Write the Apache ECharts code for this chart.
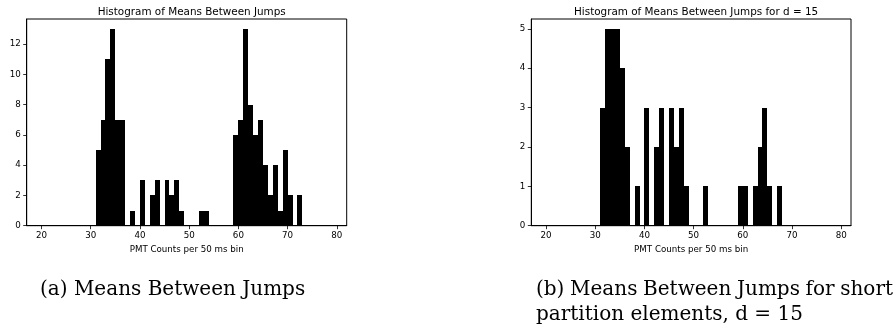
<!DOCTYPE html>
<html>
<head>
<meta charset="utf-8">
<script src="https://cdn.jsdelivr.net/npm/echarts@6/dist/echarts.min.js"></script>
<style>
html,body{margin:0;padding:0;background:#fff;}
#chart{width:894px;height:333px;}
</style>
</head>
<body>
<div id="chart"></div>
<script>
// Histogram bin edges (PMT counts per 50 ms bin)
const binEdges = [20,21,22,23,24,25,26,27,28,29,30,31,32,33,34,35,36,37,38,39,40,41,42,43,44,45,46,47,48,49,50,51,52,53,54,55,56,57,58,59,60,61,62,63,64,65,66,67,68,69,70,71,72,73,74,75,76,77,78,79,80];
// counts per bin, panel (a)
const countsA = [0,0,0,0,0,0,0,0,0,0, 0,5,7,11,13,7,7,0,1,0, 3,0,2,3,0,3,2,3,1,0, 0,0,1,1,0,0,0,0,0,6, 7,13,8,6,7,4,2,4,1,5, 2,0,2,0,0,0,0,0,0,0];
// counts per bin, panel (b), d = 15
const countsB = [0,0,0,0,0,0,0,0,0,0, 0,3,5,5,5,4,2,0,1,0, 3,0,2,3,0,3,2,3,1,0, 0,0,1,0,0,0,0,0,0,1, 1,0,1,2,3,1,0,1,0,0, 0,0,0,0,0,0,0,0,0,0];
const xTicks = [20,30,40,50,60,70,80];
const yTicksA = [0,2,4,6,8,10,12];
const yTicksB = [0,1,2,3,4,5];
const titleA = 'Histogram of Means Between Jumps';
const titleB = 'Histogram of Means Between Jumps for d = 15';
const xLabel = 'PMT Counts per 50 ms bin';
const captionA = '(a) Means Between Jumps';
const captionB1 = '(b) Means Between Jumps for short';
const captionB2 = 'partition elements, d = 15';

function histData(counts){
  const out = [];
  for (let i = 0; i < counts.length; i++) {
    out.push([binEdges[i], binEdges[i+1], counts[i]]);
  }
  return out;
}
function renderItem(params, api){
  const h = api.value(2);
  if (!h) return null;
  const p0 = api.coord([api.value(0), 0]);
  const p1 = api.coord([api.value(1), h]);
  const x0 = Math.round(p0[0]), x1 = Math.round(p1[0]);
  const yb = Math.round(p0[1]), yt = Math.round(p1[1]);
  return {type:'rect', shape:{x:x0, y:yt, width:x1-x0, height:yb-yt}, style:{fill:'#000'}};
}
const FONT = 'DejaVu Sans';
function xAxisCfg(gi){
  return {
    gridIndex: gi, type:'value', min:17, max:82,
    name: xLabel, nameLocation:'middle', nameGap:17,
    nameTextStyle:{fontFamily:FONT, fontSize:8.7, color:'#000', verticalAlign:'top'},
    axisLine:{show:true, lineStyle:{color:'#000', width:1}},
    axisTick:{show:true, inside:false, length:3.5, lineStyle:{color:'#000', width:0.8}, customValues:xTicks},
    axisLabel:{show:true, margin:6, fontFamily:FONT, fontSize:8.7, color:'#000', customValues:xTicks},
    splitLine:{show:false}
  };
}
function yAxisCfg(gi, max, ticks){
  return {
    gridIndex: gi, type:'value', min:0, max:max,
    axisLine:{show:true, lineStyle:{color:'#000', width:1}},
    axisTick:{show:true, inside:false, length:3.5, lineStyle:{color:'#000', width:0.8}, customValues:ticks},
    axisLabel:{show:true, margin:6, fontFamily:FONT, fontSize:8.7, color:'#000', customValues:ticks},
    splitLine:{show:false}
  };
}

// caption layout (LaTeX-like: first line of (b) justified to the subfigure width)
const CAP_FONT = '20px "DejaVu Serif"';
const measureCtx = document.createElement('canvas').getContext('2d');
measureCtx.font = CAP_FONT;
function justifiedLine(text, x0, x1, y){
  const words = text.split(' ');
  const widths = words.map(w => measureCtx.measureText(w).width);
  const total = widths.reduce((a,b)=>a+b, 0);
  const minGap = measureCtx.measureText(' ').width * 0.8;
  const gap = Math.max(minGap, (x1 - x0 - total) / (words.length - 1));
  const els = [];
  let x = x0;
  words.forEach((w, i) => {
    els.push({type:'text', x:x, y:y, style:{text:w, font:CAP_FONT, fill:'#000', verticalAlign:'middle'}});
    x += widths[i] + gap;
  });
  return els;
}
const captionEls = [
  {type:'text', x:40, y:290, style:{text:captionA, font:CAP_FONT, fill:'#000', verticalAlign:'middle'}},
  ...justifiedLine(captionB1, 536, 893, 290),
  {type:'text', x:536, y:315, style:{text:captionB2, font:CAP_FONT, fill:'#000', verticalAlign:'middle'}}
];

const chart = echarts.init(document.getElementById('chart'), null, {renderer:'canvas'});
chart.setOption({
  animation:false,
  backgroundColor:'#fff',
  title:[
    {text:titleA, left:186.7, top:2, textAlign:'center', textStyle:{fontFamily:FONT, fontSize:10.4, fontWeight:'normal', color:'#000'}},
    {text:titleB, left:691.1, top:2, textAlign:'center', textStyle:{fontFamily:FONT, fontSize:10.4, fontWeight:'normal', color:'#000'}}
  ],
  grid:[
    {left:26.7, top:19, width:320, height:206.7, show:true, borderColor:'#000', borderWidth:1, backgroundColor:'transparent'},
    {left:531.3, top:19, width:319.7, height:206.7, show:true, borderColor:'#000', borderWidth:1, backgroundColor:'transparent'}
  ],
  xAxis:[xAxisCfg(0), xAxisCfg(1)],
  yAxis:[yAxisCfg(0, 13.65, yTicksA), yAxisCfg(1, 5.25, yTicksB)],
  series:[
    {type:'custom', xAxisIndex:0, yAxisIndex:0, renderItem:renderItem, data:histData(countsA), encode:{x:[0,1], y:2}},
    {type:'custom', xAxisIndex:1, yAxisIndex:1, renderItem:renderItem, data:histData(countsB), encode:{x:[0,1], y:2}}
  ],
  graphic:captionEls
});
</script>
</body>
</html>
